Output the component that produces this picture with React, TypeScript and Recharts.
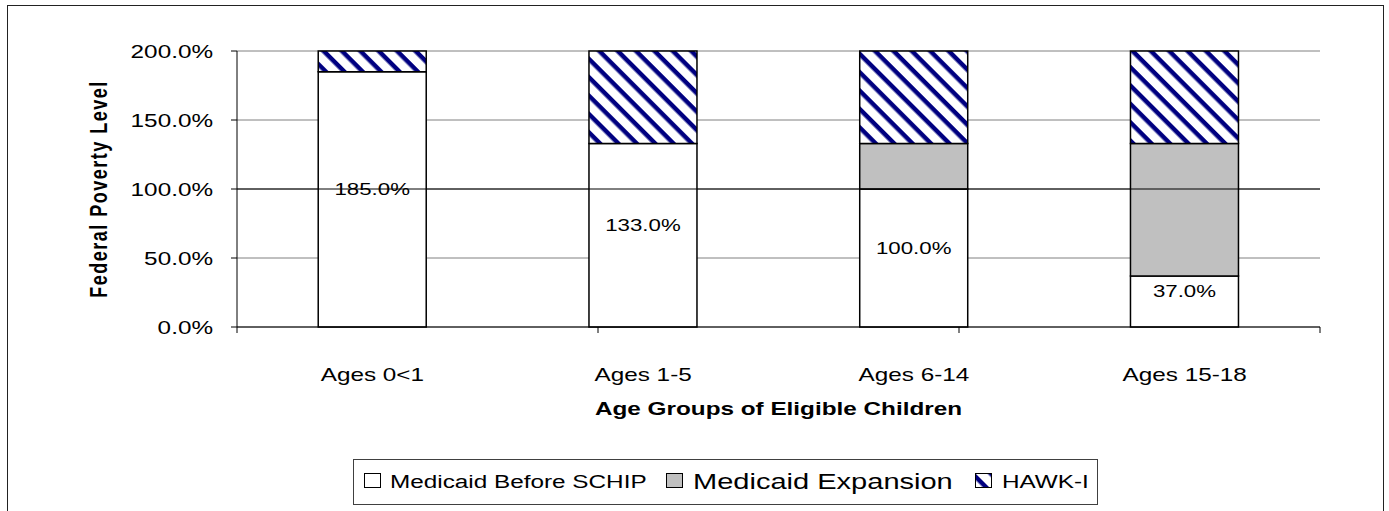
import React from "react";
import {
  BarChart,
  Bar,
  XAxis,
  YAxis,
  CartesianGrid,
  Legend,
  LabelList,
  ReferenceLine,
} from "recharts";

const categories = ["Ages 0<1", "Ages 1-5", "Ages 6-14", "Ages 15-18"];
const medicaidBefore = [185, 133, 100, 37];
const medicaidExpansion = [0, 0, 33, 96];
const hawkI = [15, 67, 67, 67];
const yTicks = [0, 50, 100, 150, 200];
const bandTicks = [0, 1, 2, 3, 4];

const data = categories.map((name, i) => ({
  name,
  before: medicaidBefore[i],
  expansion: medicaidExpansion[i],
  hawk: hawkI[i],
}));

const FONT = "'Liberation Sans', Arial, sans-serif";
const SX = 1.35; // the picture is stretched sideways

const pct = (v: number) => v.toFixed(1) + "%";

function Stretch({ x, y, anchor = "middle", size = 18, bold = false, children }: any) {
  return (
    <text
      transform={`translate(${x},${y}) scale(${SX},1)`}
      textAnchor={anchor}
      fontFamily={FONT}
      fontSize={size}
      fontWeight={bold ? "bold" : "normal"}
      fill="#000"
    >
      {children}
    </text>
  );
}

const YTick = ({ x, y, payload }: any) => (
  <Stretch x={x} y={y + 6.5} anchor="end">
    {pct(payload.value)}
  </Stretch>
);

const XTick = ({ x, y, payload }: any) => (
  <Stretch x={x} y={y + 46}>
    {payload.value}
  </Stretch>
);

// boundary axis: tick lines only, no text
const NoTick = () => <g />;

const BarLabel = ({ x, y, width, height, value }: any) => (
  <Stretch x={x + width / 2} y={y + height / 2 - 4} size={16.5}>
    {pct(value)}
  </Stretch>
);

const legendItems = [
  { label: "Medicaid Before SCHIP", fill: "#fff", size: 18, icon: 10, text: 36 },
  { label: "Medicaid Expansion", fill: "#c0c0c0", size: 21.5, icon: 312, text: 339 },
  { label: "HAWK-I", fill: "url(#hawk)", size: 18, icon: 621, text: 648 },
];

const LegendBox = () => (
  <div
    style={{
      position: "relative",
      width: 745,
      height: 46,
      boxSizing: "border-box",
      border: "1px solid #404040",
      background: "#fff",
      fontFamily: FONT,
    }}
  >
    {legendItems.map((it) => (
      <React.Fragment key={it.label}>
        <svg
          width={17}
          height={15}
          style={{ position: "absolute", left: it.icon, top: 13 }}
        >
          <rect x={0.5} y={0.5} width={16} height={14} fill={it.fill} stroke="#000" />
        </svg>
        <span
          style={{
            position: "absolute",
            left: it.text,
            top: 0,
            lineHeight: "44px",
            fontSize: it.size,
            whiteSpace: "nowrap",
            transform: `scaleX(${SX})`,
            transformOrigin: "left center",
          }}
        >
          {it.label}
        </span>
      </React.Fragment>
    ))}
  </div>
);

export default function App() {
  return (
    <div
      style={{
        position: "absolute",
        left: 0,
        top: 0,
        width: 1389,
        height: 511,
        overflow: "hidden",
        background: "#fff",
      }}
    >
      <div
        style={{
          position: "absolute",
          left: 7,
          top: 5,
          width: 1377,
          height: 540,
          border: "1px solid #222",
          boxSizing: "border-box",
        }}
      />
      <div style={{ position: "absolute", left: 0, top: 0 }}>
        <BarChart
          width={1389}
          height={511}
          data={data}
          margin={{ top: 51, right: 69, left: 0, bottom: 5 }}
          barCategoryGap="30%"
        >
          <defs>
            <pattern
              id="hawk"
              patternUnits="userSpaceOnUse"
              width={13}
              height={13}
              patternTransform="rotate(45)"
            >
              <rect width={13} height={13} fill="#fff" />
              <rect width={13} height={4.5} fill="#000080" />
            </pattern>
          </defs>
          <CartesianGrid vertical={false} xAxisId="cat" stroke="#808080" />
          <XAxis
            xAxisId="b"
            type="number"
            domain={[0, 4]}
            ticks={bandTicks}
            tick={<NoTick />}
            tickLine={{ stroke: "#000" }}
            tickSize={6}
            height={8}
            stroke="#000"
          />
          <XAxis
            xAxisId="cat"
            dataKey="name"
            tickLine={false}
            axisLine={false}
            tickSize={0}
            tickMargin={0}
            height={125}
            tick={<XTick />}
            interval={0}
            label={{
              content: ({ viewBox }: any) => (
                <Stretch
                  x={viewBox.x + viewBox.width / 2}
                  y={viewBox.y + 80}
                  bold
                >
                  Age Groups of Eligible Children
                </Stretch>
              ),
            }}
          />
          <YAxis
            width={237}
            domain={[0, 200]}
            ticks={yTicks}
            tickSize={6}
            tickMargin={18}
            tick={<YTick />}
            stroke="#000"
            label={{
              content: ({ viewBox }: any) => (
                <text
                  transform={`translate(107,${viewBox.y + viewBox.height / 2}) scale(${SX},1) rotate(-90)`}
                  textAnchor="middle"
                  fontFamily={FONT}
                  fontSize={18}
                  fontWeight="bold"
                  letterSpacing={1.5}
                  fill="#000"
                >
                  Federal Poverty Level
                </text>
              ),
            }}
          />
          <ReferenceLine xAxisId="cat" y={100} stroke="#000" />
          <ReferenceLine xAxisId="b" x={4} stroke="#808080" />
          <Legend
            verticalAlign="bottom"
            content={() => <LegendBox />}
            wrapperStyle={{ left: 353, top: 459, width: 745, height: 46 }}
          />
          <Bar
            xAxisId="cat"
            dataKey="before"
            name="Medicaid Before SCHIP"
            stackId="a"
            fill="#fff"
            stroke="#000"
            strokeWidth={1.5}
            isAnimationActive={false}
          >
            <LabelList dataKey="before" content={<BarLabel />} />
          </Bar>
          <Bar
            xAxisId="cat"
            dataKey="expansion"
            name="Medicaid Expansion"
            stackId="a"
            fill="#c0c0c0"
            stroke="#000"
            strokeWidth={1.5}
            isAnimationActive={false}
          />
          <Bar
            xAxisId="cat"
            dataKey="hawk"
            name="HAWK-I"
            stackId="a"
            fill="url(#hawk)"
            stroke="#000"
            strokeWidth={1.5}
            isAnimationActive={false}
          />
        </BarChart>
      </div>
    </div>
  );
}
